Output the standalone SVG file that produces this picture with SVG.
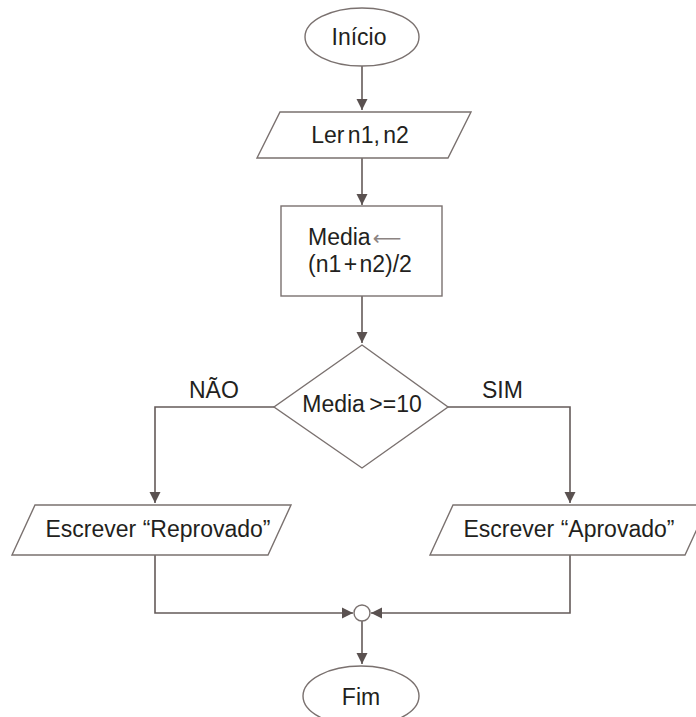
<svg xmlns="http://www.w3.org/2000/svg" width="696" height="717" viewBox="0 0 696 717">
  <style>
    .shape { fill: #ffffff; stroke: #7a716f; stroke-width: 1.4; }
    .wire { fill: none; stroke: #645b59; stroke-width: 1.6; }
    .label { font-family: "Liberation Sans", Arial, sans-serif; font-size: 23px; fill: #231f20; }
    .mid { text-anchor: middle; }
    .assign { font-family: "DejaVu Sans", sans-serif; font-size: 20px; fill: #8c8482; }
  </style>
  <defs>
    <marker id="head" markerUnits="userSpaceOnUse" markerWidth="12" markerHeight="12" viewBox="0 0 12 12" refX="11" refY="6" orient="auto">
      <path d="M0,0.5 L11,6 L0,11.5 Z" fill="#5a5150"/>
    </marker>
  </defs>
  <rect width="696" height="717" fill="#ffffff"/>

  <!-- connectors -->
  <g id="connectors">
    <path class="wire" d="M362,66 V110" marker-end="url(#head)"/>
    <path class="wire" d="M362,158 V205" marker-end="url(#head)"/>
    <path class="wire" d="M362,296 V343" marker-end="url(#head)"/>
    <path class="wire" d="M274,407 H155 V503" marker-end="url(#head)"/>
    <path class="wire" d="M448,407 H570 V503" marker-end="url(#head)"/>
    <path class="wire" d="M155,555 V613 H353" marker-end="url(#head)"/>
    <path class="wire" d="M570,555 V613 H371" marker-end="url(#head)"/>
    <path class="wire" d="M362,621 V664" marker-end="url(#head)"/>
  </g>

  <g id="inicio">
    <ellipse class="shape" cx="362" cy="37" rx="57" ry="29"/>
    <text class="label mid" x="359" y="45">Início</text>
  </g>

  <g id="ler">
    <polygon class="shape" points="280,112 471,112 448,158 257,158"/>
    <text class="label mid" x="360" y="143" word-spacing="-3">Ler n1, n2</text>
  </g>

  <g id="media">
    <rect class="shape" x="281" y="206" width="161" height="90"/>
    <text class="label" x="308" y="245">Media<tspan class="assign" dx="2">⟵</tspan></text>
    <text class="label" x="308" y="272" word-spacing="-4">(n1 + n2)/2</text>
  </g>

  <g id="decisao">
    <polygon class="shape" points="362,345 448,407 362,468 274,407"/>
    <text class="label mid" x="362" y="412" word-spacing="-2">Media &gt;=10</text>
  </g>

  <g id="rotulos">
    <text class="label" x="189" y="398">NÃO</text>
    <text class="label" x="482" y="398">SIM</text>
  </g>

  <g id="reprovado">
    <polygon class="shape" points="35,505 291,505 268,555 12,555"/>
    <text class="label mid" x="158" y="537">Escrever “Reprovado”</text>
  </g>

  <g id="aprovado">
    <polygon class="shape" points="453,505 708,505 685,555 430,555"/>
    <text class="label mid" x="569" y="537">Escrever “Aprovado”</text>
  </g>

  <g id="juncao">
    <circle class="shape" cx="362" cy="613" r="8"/>
  </g>

  <g id="fim">
    <ellipse class="shape" cx="361" cy="696" rx="58" ry="30"/>
    <text class="label mid" x="361" y="705">Fim</text>
  </g>
</svg>
